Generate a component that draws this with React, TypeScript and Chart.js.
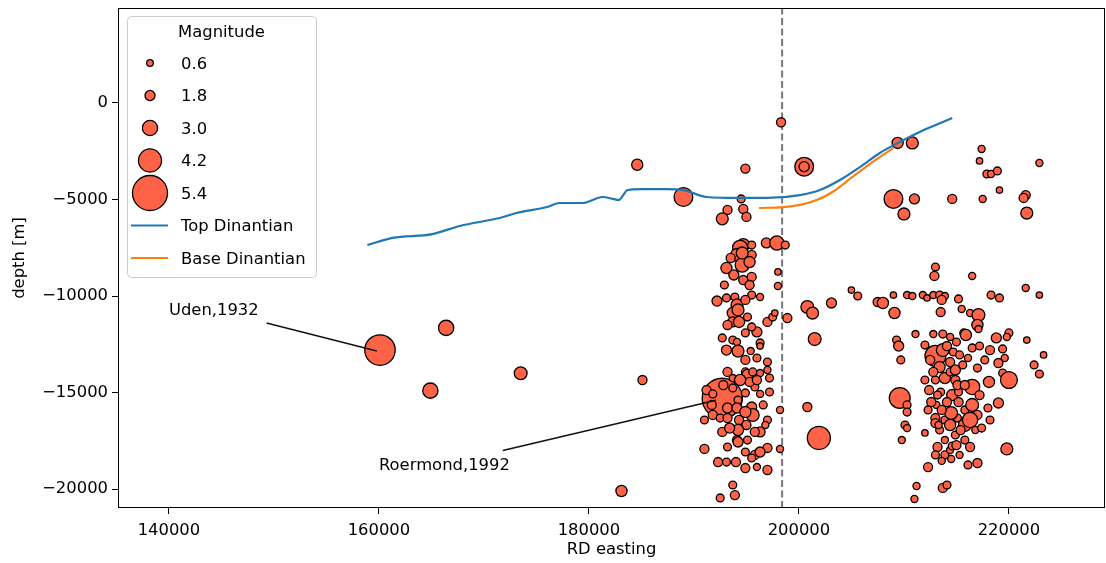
import React, { useEffect, useRef } from 'react';
import { Chart, registerables } from 'chart.js';

Chart.register(...registerables);

const FONT = "'DejaVu Sans', sans-serif";
const FONT_SIZE = 16.4;

// Earthquakes: RD easting, depth [m], magnitude
const eqEasting = [
  160100, 192700, 166400, 164900, 173500, 185100, 183100, 184600, 189000, 198300,
  194900, 200500, 200500, 194500, 193200, 192700, 194700, 195000, 209400, 210800,
  209000, 211000, 210000, 214600, 217500, 219100, 217400, 217200, 217900, 218300,
  218900, 222900, 221600, 221400, 221700, 194700, 195500, 196900, 197900, 198700,
  194400, 194100, 193500, 195500, 194600, 193100, 195500, 194700, 195300, 198000,
  198000, 195500, 196300, 192200, 193100, 193900, 194100, 193700, 194200, 193700,
  194300, 195100, 197000, 197500, 197700, 198900, 192700, 193700, 194100, 194900,
  196000, 196300, 194200, 195400, 196000, 196300, 197000, 197000, 193200, 194900,
  195100, 195600, 196300, 191200, 191800, 193700, 193700, 194900, 195800, 196300,
  197200, 195300, 194200, 193200, 194100, 195500, 195600, 198200, 191800, 192500,
  193200, 194300, 195000, 197000, 196800, 192700, 194200, 194100, 195100, 196300,
  191000, 194200, 194900, 195800, 195500, 197000, 198200, 192300, 193100, 194000,
  196000, 197000, 193700, 193900, 192500, 205000, 205600, 203100, 200800, 201300,
  207500, 201500, 200800, 201900, 213000, 212900, 208000, 209000, 210300, 210800,
  211800, 212200, 212800, 213400, 213900, 213600, 215200, 216500, 218300, 219100,
  221600, 222900, 209100, 213500, 215500, 216300, 217100, 217000, 211100, 212800,
  213700, 214400, 215000, 215700, 215900, 217100, 218800, 220000, 219800, 221700,
  209300, 209500, 213000, 213700, 214100, 214700, 215300, 216100, 216500, 217200,
  209700, 213400, 214400, 215600, 213900, 214900, 213000, 219400, 219600, 223300,
  219000, 222400, 219400, 220000, 222900, 217000, 216500, 218100, 212400, 213500,
  214600, 215200, 214100, 213100, 209600, 210300, 210300, 215200, 215800, 216500,
  217000, 218000, 219000, 213000, 213900, 214400, 215100, 215800, 216300, 214900,
  213400, 213900, 215800, 216300, 216800, 217400, 210100, 210300, 209800, 212000,
  213200, 213900, 214400, 212300, 213600, 214500, 211200, 213700, 214100, 211000,
  219800, 214500, 212600, 213000, 217000, 212800, 214400, 215100, 213200, 213600,
  215400, 214600, 215300, 213300, 194600, 195300, 193800, 192900, 194900, 193200,
  195500, 193100, 194900, 194400, 196000, 196600, 194900, 193400, 195800, 193200,
  196300, 194900, 191700, 191000, 197200, 192800, 212000, 212500, 214900, 215800,
  217200, 217700, 212300, 215000, 213000, 216100, 218200, 212000, 218200,
];

const eqDepth = [
  -12800, -15300, -11650, -14900, -14000, -14350, -20100, -3200, -4870, -1000,
  -3400, -3300, -3300, -4970, -5540, -6000, -5490, -5900, -2070, -2070,
  -4970, -4970, -5750, -4970, -4970, -4510, -2380, -3000, -3680, -3680,
  -3520, -3110, -4770, -4920, -5700, -7360, -7360, -7250, -7250, -7360,
  -7510, -7870, -8030, -7870, -8390, -8550, -9010, -9170, -9430, -8750,
  -9480, -9950, -10050, -10260, -10100, -10050, -10460, -10880, -10720, -11340,
  -11340, -11090, -11340, -11090, -10880, -11140, -12170, -12280, -12380, -11910,
  -11860, -12430, -12850, -12850, -13210, -12590, -13420, -13830, -13930, -13930,
  -14090, -13930, -13990, -14870, -15070, -14250, -14760, -15020, -14710, -15070,
  -14970, -14450, -15390, -15800, -15800, -15750, -16160, -15900, -16160, -16320,
  -16320, -16420, -16680, -16420, -16680, -17040, -16940, -17460, -17460, -17040,
  -17920, -17560, -18080, -18230, -18390, -17870, -17920, -18600, -18600, -18600,
  -18860, -19010, -19790, -20310, -20460, -9690, -10000, -10360, -10570, -10880,
  -10310, -12230, -15750, -17350, -8500, -8960, -10360, -9950, -9950, -10000,
  -9950, -10100, -9950, -9950, -10000, -10200, -10150, -8960, -9950, -10100,
  -9580, -9950, -10880, -10830, -10670, -10880, -10980, -11500, -11970, -11970,
  -11970, -12120, -12380, -11910, -12020, -11710, -12170, -11910, -12120, -12280,
  -12280, -12590, -13100, -12800, -12590, -12900, -13050, -13210, -12690, -12590,
  -13310, -13680, -13420, -13570, -14250, -14350, -14350, -12740, -13210, -13050,
  -13470, -13570, -13990, -14350, -14040, -13730, -14710, -14450, -14870, -14970,
  -15130, -14970, -15490, -15640, -15280, -15640, -16010, -15490, -15900, -15640,
  -16160, -15800, -15540, -16320, -16420, -16680, -16320, -16680, -16420, -17200,
  -16940, -17460, -17460, -17820, -16940, -16840, -16680, -16840, -17460, -17090,
  -17820, -18230, -17980, -18860, -18540, -18440, -19840, -19940, -19790, -20510,
  -17920, -16060, -15490, -16580, -18650, -13930, -13930, -14610, -15130, -15900,
  -16940, -17770, -18230, -16680, -7770, -8240, -8910, -9430, -10200, -11500,
  -11600, -12800, -13310, -14350, -14350, -15640, -16010, -16840, -17040, -17820,
  -18080, -18910, -15640, -16420, -14250, -14610, -12540, -13310, -13830, -14610,
  -15130, -13310, -15900, -17720, -18230, -18750, -16420, -14350, -12800,
];

const eqMagnitude = [
  5.0, 5.8, 3.0, 3.0, 2.5, 1.5, 2.1, 2.1, 3.6, 1.5,
  1.5, 3.6, 1.8, 1.1, 1.5, 2.3, 1.5, 1.5, 2.1, 2.3,
  3.6, 1.8, 2.3, 1.5, 0.8, 0.5, 0.8, 0.5, 1.1, 0.8,
  1.1, 0.8, 1.5, 1.5, 2.3, 2.5, 1.1, 1.8, 2.8, 1.1,
  3.0, 2.5, 1.5, 1.5, 2.8, 2.1, 1.5, 1.5, 1.5, 0.5,
  0.8, 1.1, 0.8, 1.8, 1.1, 1.1, 2.3, 2.1, 2.3, 1.8,
  2.1, 1.1, 1.5, 1.1, 0.5, 1.5, 1.1, 1.1, 0.8, 1.1,
  1.8, 1.1, 2.3, 0.8, 1.1, 0.5, 1.1, 0.8, 1.5, 1.1,
  2.1, 1.1, 0.8, 1.5, 1.1, 0.8, 1.1, 1.1, 1.1, 0.8,
  1.1, 1.5, 1.1, 1.8, 1.8, 1.8, 2.5, 0.8, 1.5, 1.1,
  1.5, 1.5, 1.5, 1.1, 0.8, 1.5, 2.1, 1.5, 1.1, 1.8,
  1.5, 1.8, 1.1, 1.5, 1.1, 1.5, 0.8, 1.5, 1.1, 1.5,
  0.8, 1.5, 1.1, 1.5, 1.1, 0.5, 1.1, 1.8, 2.5, 2.3,
  1.5, 2.5, 1.5, 4.2, 1.1, 1.5, 2.1, 0.5, 0.8, 0.8,
  0.8, 0.5, 0.8, 1.1, 0.8, 1.5, 1.1, 0.8, 1.1, 1.1,
  0.8, 0.5, 2.1, 1.5, 0.8, 0.8, 2.5, 2.1, 0.8, 0.8,
  1.1, 0.8, 1.1, 1.1, 2.1, 0.8, 1.8, 1.1, 0.8, 0.5,
  1.1, 1.8, 3.9, 2.5, 1.5, 1.1, 1.1, 0.8, 1.1, 1.1,
  1.1, 2.1, 1.5, 1.1, 2.1, 1.5, 1.1, 1.1, 0.8, 0.5,
  1.5, 1.1, 1.1, 3.3, 1.1, 1.1, 3.0, 2.1, 1.5, 1.1,
  2.1, 1.1, 1.5, 0.8, 3.9, 1.1, 1.1, 1.5, 1.1, 2.5,
  1.5, 1.1, 1.8, 1.5, 1.1, 2.1, 1.1, 2.5, 3.0, 1.1,
  1.1, 0.8, 1.1, 1.5, 0.8, 1.1, 1.1, 0.8, 0.8, 0.5,
  1.5, 1.1, 0.8, 1.5, 0.8, 0.8, 0.8, 1.5, 1.1, 0.8,
  2.3, 2.5, 1.5, 1.5, 1.5, 1.5, 1.1, 1.5, 1.1, 1.5,
  1.5, 1.1, 0.8, 0.8, 2.3, 2.1, 1.8, 1.1, 1.5, 1.5,
  1.1, 1.8, 1.5, 2.1, 1.5, 1.1, 2.1, 1.8, 1.5, 1.1,
  1.8, 1.5, 1.5, 1.1, 1.1, 1.5, 1.1, 1.5, 1.8, 1.5,
  1.5, 1.1, 1.1, 1.5, 1.1, 1.1, 1.1, 1.1, 1.5,
];

const topDinantianEasting = [
  158900, 161300, 165100, 167700, 171500, 173100, 176000, 177200, 179400, 181300,
  182300, 182800, 183700, 185000, 187400, 189000, 191200, 194400, 197000, 200100,
  202000, 203900, 205800, 207700, 209600, 211500, 212800, 214600,
];
const topDinantianDepth = [
  -7360, -6990, -6790, -6370, -5960, -5700, -5390, -5180, -5180, -4870,
  -4970, -5030, -4510, -4460, -4460, -4510, -4870, -4920, -4920, -4770,
  -4510, -3990, -3320, -2590, -2020, -1500, -1190, -780,
];

const baseDinantianEasting = [196200, 198500, 200100, 201700, 203200, 205100, 207000, 209000];
const baseDinantianDepth = [-5440, -5390, -5280, -5030, -4610, -3830, -3060, -2330];

const boundaryEasting = 198400;

const xTicks = [140000, 160000, 180000, 200000, 220000];
const yTicks = [0, -5000, -10000, -15000, -20000];
const xRange = [135150, 229150];
const yRange = [-20980, 4920];

const legendMagnitudes = [0.6, 1.8, 3.0, 4.2, 5.4];
const legendLineLabels = ['Top Dinantian', 'Base Dinantian'];

const annotationLabels = ['Uden,1932', 'Roermond,1992'];
const annotationTextEasting = [140000, 160000];
const annotationTextDepth = [-11000, -19000];
const annotationFromEasting = [149300, 171800];
const annotationFromDepth = [-11400, -18000];
const annotationToEasting = [159800, 192100];
const annotationToDepth = [-12850, -15400];

const MARKER_FILL = '#ff6347';
const TOP_COLOR = '#1f77b4';
const BASE_COLOR = '#ff7f0e';

const radiusFor = (m: number) => 17.5 * Math.pow(2, (m - 5.4) / 2);

const fmtNum = (v: number) => (v < 0 ? '\u2212' + Math.abs(v) : String(v));

const overlayPlugin = {
  id: 'overlay',
  afterDraw(chart: any) {
    const { ctx, chartArea: a, scales } = chart;
    const xs = scales.x;
    const ys = scales.y;
    ctx.save();
    // frame
    ctx.strokeStyle = '#000';
    ctx.lineWidth = 1;
    ctx.strokeRect(a.left + 0.5, a.top + 0.5, a.right - a.left - 1, a.bottom - a.top - 1);

    // annotations
    ctx.font = `${FONT_SIZE}px ${FONT}`;
    ctx.fillStyle = '#000';
    ctx.textAlign = 'left';
    ctx.textBaseline = 'alphabetic';
    annotationLabels.forEach((label, i) => {
      ctx.fillText(label, xs.getPixelForValue(annotationTextEasting[i]), ys.getPixelForValue(annotationTextDepth[i]));
      ctx.beginPath();
      ctx.moveTo(xs.getPixelForValue(annotationFromEasting[i]), ys.getPixelForValue(annotationFromDepth[i]));
      ctx.lineTo(xs.getPixelForValue(annotationToEasting[i]), ys.getPixelForValue(annotationToDepth[i]));
      ctx.lineWidth = 1.5;
      ctx.strokeStyle = '#111';
      ctx.stroke();
    });

    // legend
    const L = a.left + 9;
    const T = a.top + 8;
    const W = 189;
    const H = 261;
    ctx.beginPath();
    if ((ctx as any).roundRect) (ctx as any).roundRect(L + 0.5, T + 0.5, W, H, 4);
    else ctx.rect(L + 0.5, T + 0.5, W, H);
    ctx.fillStyle = 'rgba(255,255,255,0.8)';
    ctx.fill();
    ctx.strokeStyle = '#cccccc';
    ctx.lineWidth = 1;
    ctx.stroke();

    const cap = FONT_SIZE * 0.365;
    ctx.fillStyle = '#000';
    ctx.textAlign = 'center';
    ctx.fillText('Magnitude', L + W / 2, T + 15 + cap);

    const rowY = (i: number) => T + 47 + i * 32.5;
    ctx.textAlign = 'left';
    legendMagnitudes.forEach((m, i) => {
      const y = rowY(i);
      ctx.beginPath();
      ctx.arc(L + 23, y, radiusFor(m), 0, Math.PI * 2);
      ctx.fillStyle = MARKER_FILL;
      ctx.fill();
      ctx.strokeStyle = '#000';
      ctx.lineWidth = 1.3;
      ctx.stroke();
      ctx.fillStyle = '#000';
      ctx.fillText(m.toFixed(1), L + 54, y + cap);
    });
    const lineColors = [TOP_COLOR, BASE_COLOR];
    legendLineLabels.forEach((label, j) => {
      const y = rowY(legendMagnitudes.length + j);
      ctx.beginPath();
      ctx.moveTo(L + 4, y);
      ctx.lineTo(L + 41, y);
      ctx.strokeStyle = lineColors[j];
      ctx.lineWidth = 2.2;
      ctx.stroke();
      ctx.fillStyle = '#000';
      ctx.fillText(label, L + 54, y + cap);
    });
    ctx.restore();
  },
};

export default function App() {
  const canvasRef = useRef<HTMLCanvasElement | null>(null);

  useEffect(() => {
    if (!canvasRef.current) return;
    Chart.defaults.font.family = FONT;
    Chart.defaults.font.size = FONT_SIZE;
    Chart.defaults.color = '#000';

    const tickFont = { family: FONT, size: FONT_SIZE };
    const chart = new Chart(canvasRef.current, {
      type: 'scatter',
      data: {
        datasets: [
          {
            type: 'line',
            label: legendLineLabels[0],
            data: topDinantianEasting.map((x, i) => ({ x, y: topDinantianDepth[i] })),
            borderColor: TOP_COLOR,
            borderWidth: 2.2,
            pointRadius: 0,
            cubicInterpolationMode: 'monotone',
            fill: false,
            order: 0,
            clip: 0,
          } as any,
          {
            type: 'line',
            label: legendLineLabels[1],
            data: baseDinantianEasting.map((x, i) => ({ x, y: baseDinantianDepth[i] })),
            borderColor: BASE_COLOR,
            borderWidth: 2.2,
            pointRadius: 0,
            cubicInterpolationMode: 'monotone',
            fill: false,
            order: 1,
            clip: 0,
          } as any,
          {
            type: 'scatter',
            label: 'Magnitude',
            data: eqEasting.map((x, i) => ({ x, y: eqDepth[i] })),
            pointRadius: (c: any) => radiusFor(eqMagnitude[c.dataIndex] ?? 1),
            pointBackgroundColor: MARKER_FILL,
            pointBorderColor: '#000',
            pointBorderWidth: 1.3,
            order: 2,
            clip: 0,
          } as any,
          {
            type: 'line',
            label: 'boundary',
            data: [
              { x: boundaryEasting, y: yRange[0] },
              { x: boundaryEasting, y: yRange[1] },
            ],
            borderColor: '#777777',
            borderDash: [7, 3.5],
            borderWidth: 2,
            pointRadius: 0,
            fill: false,
            order: 3,
            clip: 0,
          } as any,
        ],
      },
      options: {
        animation: false,
        responsive: false,
        events: [],
        layout: { autoPadding: false, padding: { top: 8, right: 1, bottom: 0, left: 0 } },
        plugins: {
          legend: { display: false },
          tooltip: { enabled: false },
        },
        scales: {
          x: {
            type: 'linear',
            min: xRange[0],
            max: xRange[1],
            afterBuildTicks: (s: any) => {
              s.ticks = xTicks.map((v) => ({ value: v }));
            },
            afterFit: (s: any) => {
              s.height = 55;
              s.paddingLeft = 0;
              s.paddingRight = 0;
            },
            grid: { display: true, drawOnChartArea: false, drawTicks: true, tickLength: 6, color: '#000', lineWidth: 1 },
            border: { display: false },
            ticks: {
              padding: 7,
              color: '#000',
              font: tickFont,
              maxRotation: 0,
              autoSkip: false,
              callback: (v: any) => fmtNum(Number(v)),
            },
            title: {
              display: true,
              text: 'RD easting',
              color: '#000',
              font: tickFont,
              padding: { top: 0, bottom: 3 },
            },
          },
          y: {
            type: 'linear',
            min: yRange[0],
            max: yRange[1],
            afterBuildTicks: (s: any) => {
              s.ticks = yTicks.map((v) => ({ value: v }));
            },
            afterFit: (s: any) => {
              s.width = 118;
              s.paddingTop = 0;
              s.paddingBottom = 0;
            },
            grid: { display: true, drawOnChartArea: false, drawTicks: true, tickLength: 6, color: '#000', lineWidth: 1 },
            border: { display: false },
            ticks: {
              padding: 4,
              color: '#000',
              font: tickFont,
              autoSkip: false,
              callback: (v: any) => fmtNum(Number(v)),
            },
            title: {
              display: true,
              text: 'depth [m]',
              color: '#000',
              font: tickFont,
              padding: { top: 10, bottom: 0 },
            },
          },
        },
      } as any,
      plugins: [overlayPlugin],
    });
    return () => chart.destroy();
  }, []);

  return (
    <div style={{ position: 'absolute', left: 0, top: 0, width: 1106, height: 563, background: '#fff' }}>
      <canvas ref={canvasRef} width={1106} height={563} style={{ display: 'block', width: 1106, height: 563 }} />
    </div>
  );
}
